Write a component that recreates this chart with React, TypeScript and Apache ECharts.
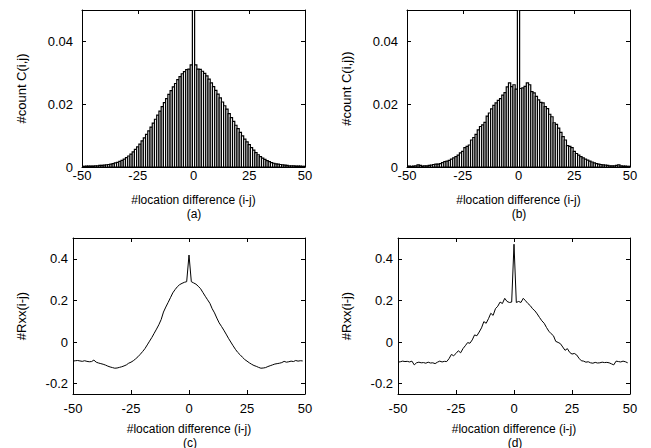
import { useEffect, useRef } from 'react'
import * as echarts from 'echarts'

// histogram (a): C(i,j) for lag -50..50
const countA = [
  0.0002, 0.0002, 0.0003, 0.0003, 0.0003, 0.0003, 0.0004, 0.0004, 0.0005, 0.0005,
  0.0006, 0.0007, 0.0008, 0.0009, 0.0011, 0.0013, 0.0015, 0.0018, 0.0021, 0.0025,
  0.0030, 0.0035, 0.0041, 0.0048, 0.0056, 0.0064, 0.0073, 0.0083, 0.0093, 0.0104,
  0.0115, 0.0127, 0.0140, 0.0152, 0.0165, 0.0178, 0.0192, 0.0205, 0.0218, 0.0231,
  0.0243, 0.0255, 0.0266, 0.0278, 0.0288, 0.0297, 0.0304, 0.0310, 0.0312, 0.0325,
  0.0900,
  0.0325, 0.0312, 0.0311, 0.0305, 0.0298, 0.0290, 0.0280, 0.0268, 0.0256, 0.0244,
  0.0232, 0.0220, 0.0207, 0.0195, 0.0184, 0.0170, 0.0157, 0.0145, 0.0133, 0.0122,
  0.0110, 0.0099, 0.0089, 0.0080, 0.0071, 0.0062, 0.0054, 0.0046, 0.0039, 0.0033,
  0.0028, 0.0024, 0.0020, 0.0017, 0.0014, 0.0012, 0.0010, 0.0009, 0.0008, 0.0007,
  0.0006, 0.0005, 0.0004, 0.0004, 0.0004, 0.0003, 0.0003, 0.0003, 0.0002, 0.0002,
]

// histogram (b): C(i,j) for lag -50..50
const countB = [
  0.0002, 0.0003, 0.0002, 0.0003, 0.0004, 0.0007, 0.0005, 0.0003, 0.0004, 0.0004,
  0.0005, 0.0006, 0.0008, 0.0009, 0.0009, 0.0011, 0.0014, 0.0017, 0.0019, 0.0021,
  0.0025, 0.0029, 0.0033, 0.0038, 0.0045, 0.0050, 0.0062, 0.0066, 0.0070, 0.0086,
  0.0094, 0.0104, 0.0118, 0.0129, 0.0134, 0.0142, 0.0162, 0.0172, 0.0185, 0.0196,
  0.0204, 0.0212, 0.0218, 0.0229, 0.0237, 0.0255, 0.0268, 0.0256, 0.0262, 0.0248,
  0.0900,
  0.0250, 0.0252, 0.0257, 0.0268, 0.0262, 0.0240, 0.0236, 0.0225, 0.0214, 0.0206,
  0.0204, 0.0192, 0.0186, 0.0168, 0.0160, 0.0141, 0.0136, 0.0124, 0.0110, 0.0097,
  0.0086, 0.0068, 0.0066, 0.0062, 0.0050, 0.0043, 0.0038, 0.0033, 0.0029, 0.0025,
  0.0022, 0.0019, 0.0016, 0.0013, 0.0011, 0.0009, 0.0008, 0.0007, 0.0006, 0.0005,
  0.0004, 0.0004, 0.0004, 0.0005, 0.0007, 0.0004, 0.0003, 0.0003, 0.0002, 0.0002,
]

// autocorrelation (c): Rxx for lag -50..49
const rxxC = [
  -0.092, -0.090, -0.089, -0.091, -0.093, -0.090, -0.093, -0.095, -0.094, -0.087,
  -0.097, -0.101, -0.104, -0.107, -0.111, -0.116, -0.120, -0.123, -0.126, -0.125,
  -0.122, -0.119, -0.115, -0.110, -0.102, -0.097, -0.090, -0.081, -0.071, -0.059,
  -0.046, -0.032, -0.014, 0.004, 0.022, 0.042, 0.062, 0.083, 0.108, 0.144,
  0.168, 0.190, 0.213, 0.236, 0.252, 0.266, 0.276, 0.282, 0.287, 0.290,
  0.418,
  0.290, 0.284, 0.278, 0.268, 0.256, 0.238, 0.220, 0.203, 0.186, 0.160,
  0.140, 0.115, 0.092, 0.075, 0.057, 0.038, 0.018, 0.000, -0.018, -0.035,
  -0.050, -0.061, -0.073, -0.084, -0.092, -0.100, -0.107, -0.113, -0.117, -0.122,
  -0.126, -0.125, -0.123, -0.118, -0.114, -0.110, -0.106, -0.104, -0.102, -0.099,
  -0.093, -0.097, -0.095, -0.092, -0.094, -0.089, -0.092, -0.090, -0.091,
]

// autocorrelation (d): Rxx for lag -50..49
const rxxD = [
  -0.097, -0.095, -0.092, -0.094, -0.093, -0.096, -0.092, -0.110, -0.100, -0.097,
  -0.100, -0.099, -0.102, -0.097, -0.101, -0.100, -0.104, -0.097, -0.092, -0.096,
  -0.093, -0.094, -0.080, -0.060, -0.066, -0.055, -0.042, -0.052, -0.032, -0.018,
  -0.003, -0.006, 0.010, 0.034, 0.030, 0.048, 0.068, 0.098, 0.090, 0.112,
  0.138, 0.128, 0.160, 0.172, 0.192, 0.185, 0.210, 0.195, 0.190, 0.192,
  0.470,
  0.190, 0.195, 0.190, 0.210, 0.198, 0.185, 0.175, 0.160, 0.150, 0.135,
  0.118, 0.102, 0.090, 0.070, 0.052, 0.040, 0.030, 0.003, -0.002, -0.008,
  -0.024, -0.040, -0.032, -0.050, -0.058, -0.055, -0.062, -0.078, -0.090, -0.092,
  -0.097, -0.095, -0.100, -0.102, -0.098, -0.101, -0.100, -0.097, -0.099, -0.098,
  -0.100, -0.105, -0.110, -0.092, -0.094, -0.096, -0.092, -0.095, -0.100,
]

const xTicks = [-50, -25, 0, 25, 50]
const countTicks = [0, 0.02, 0.04]
const rxxTicks = [-0.2, 0, 0.2, 0.4]
const panelTags = ['(a)', '(b)', '(c)', '(d)']
const xTitle = '#location difference (i-j)'
const yTitles = ['#count C(i,j)', '#count C(i,j))', '#Rxx(i-j)', '#Rxx(i-j)']

const FONT = '"Liberation Sans", Arial, sans-serif'

const grids = [
  { left: 82, top: 10, width: 223, height: 157 },
  { left: 407, top: 10, width: 223, height: 157 },
  { left: 73, top: 238, width: 232, height: 156 },
  { left: 398, top: 238, width: 232, height: 156 },
]

// centre of the panel tags under each x title
const tagPos = [
  [194, 214],
  [519, 214],
  [190, 442.5],
  [515, 442.5],
]

const toPairs = (vals: number[]) => vals.map((v, i) => [i - 50, v])

function App() {
  const chartRef = useRef<HTMLDivElement>(null)

  useEffect(() => {
    if (!chartRef.current) return
    const chart = echarts.init(chartRef.current, undefined, { renderer: 'svg' })

    const textStyle = { color: '#000', fontFamily: FONT, fontSize: 12 }
    const line = { show: true, onZero: false, lineStyle: { color: '#000', width: 1 } }
    const tick = (vals: number[]) => ({
      show: true, inside: true, length: 4, customValues: vals,
      lineStyle: { color: '#000', width: 1 },
    })

    const xAxis: any[] = []
    const yAxis: any[] = []
    grids.forEach((_, i) => {
      const top = i < 2
      const yTicks = top ? countTicks : rxxTicks
      const yMin = top ? 0 : -0.25
      const yMax = top ? 0.05 : 0.5
      xAxis.push({
        type: 'value', gridIndex: i, min: -50, max: 50, position: 'bottom',
        axisLine: line, axisTick: tick(xTicks), splitLine: { show: false },
        axisLabel: { ...textStyle, fontSize: 13, margin: top ? 2 : 8, customValues: xTicks },
        name: xTitle, nameLocation: 'middle', nameGap: top ? 28 : 30,
        nameTextStyle: { ...textStyle, lineHeight: 10 },
      })
      xAxis.push({
        type: 'value', gridIndex: i, min: -50, max: 50, position: 'top',
        axisLine: line, axisTick: tick(xTicks), axisLabel: { show: false },
        splitLine: { show: false },
      })
      yAxis.push({
        type: 'value', gridIndex: i, min: yMin, max: yMax, position: 'left',
        axisLine: line, axisTick: tick(yTicks), splitLine: { show: false },
        axisLabel: { ...textStyle, fontSize: 13, margin: top ? 9 : 5, customValues: yTicks },
        name: yTitles[i], nameLocation: 'middle', nameGap: top ? 54 : 45,
        nameTextStyle: { ...textStyle, fontSize: 13 },
      })
      yAxis.push({
        type: 'value', gridIndex: i, min: yMin, max: yMax, position: 'right',
        axisLine: line, axisTick: tick(yTicks), axisLabel: { show: false },
        splitLine: { show: false },
      })
    })

    const boxes = (data: number[], i: number) => ({
      type: 'custom',
      xAxisIndex: i * 2,
      yAxisIndex: i * 2,
      clip: true,
      data: toPairs(data),
      renderItem: (params: any, api: any) => {
        const x = api.value(0)
        const v = api.value(1)
        const cs = params.coordSys
        const p0 = api.coord([x - 0.5, 0])
        const p1 = api.coord([x + 0.5, v])
        const left = Math.max(p0[0], cs.x)
        const right = Math.min(p1[0], cs.x + cs.width)
        const topY = Math.max(p1[1], cs.y)
        return {
          type: 'rect',
          shape: { x: left, y: topY, width: right - left, height: p0[1] - topY },
          style: { fill: '#fff', stroke: '#000', lineWidth: 1.2 },
        }
      },
    })

    const curve = (data: number[], i: number) => ({
      type: 'line',
      xAxisIndex: i * 2,
      yAxisIndex: i * 2,
      data: toPairs(data),
      showSymbol: false,
      symbol: 'none',
      lineStyle: { color: '#000', width: 1 },
      clip: true,
    })

    chart.setOption({
      animation: false,
      backgroundColor: '#fff',
      textStyle: { fontFamily: FONT },
      grid: grids,
      xAxis,
      yAxis,
      graphic: panelTags.map((t, i) => ({
        type: 'text',
        x: tagPos[i][0],
        y: tagPos[i][1],
        style: {
          text: t, fill: '#000', font: `12px ${FONT}`, lineHeight: 10,
          textAlign: 'center', textVerticalAlign: 'middle',
        },
      })),
      series: [boxes(countA, 0), boxes(countB, 1), curve(rxxC, 2), curve(rxxD, 3)],
    })

    return () => {
      chart.dispose()
    }
  }, [])

  return (
    <div
      ref={chartRef}
      style={{ position: 'absolute', left: 0, top: 0, width: 651, height: 448 }}
    />
  )
}

export default App
